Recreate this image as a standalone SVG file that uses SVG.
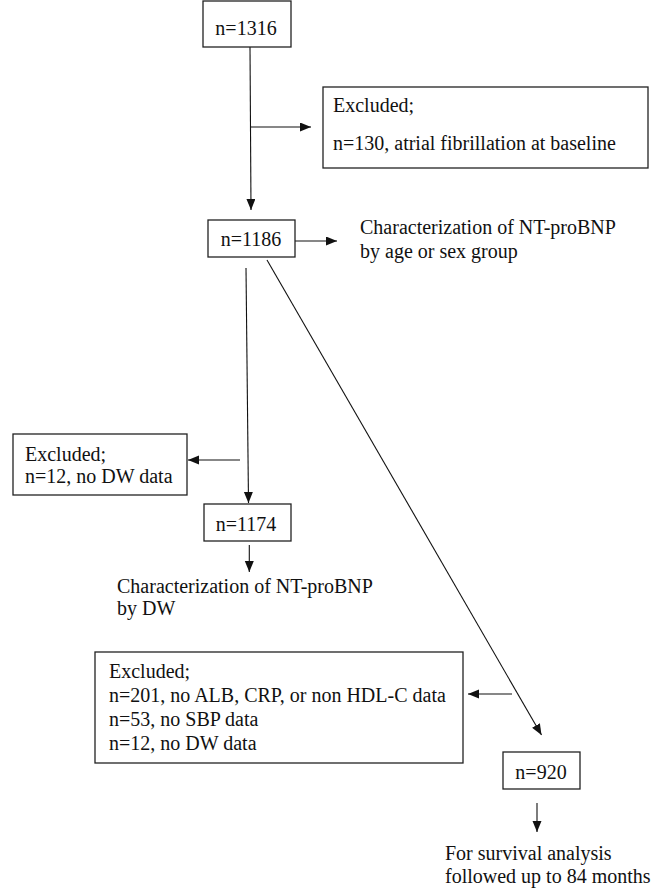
<svg xmlns="http://www.w3.org/2000/svg" width="654" height="888" viewBox="0 0 654 888">
<defs>
<style>
.box{fill:#fff;stroke:#222;stroke-width:1.3}
.t{font-family:"Liberation Serif","Times New Roman",serif;font-size:20px;fill:#111}
.c{text-anchor:middle}
.ln{stroke:#111;stroke-width:1.1;fill:none;marker-end:url(#ah)}
</style>
<marker id="ah" markerUnits="userSpaceOnUse" markerWidth="12" markerHeight="10" refX="11" refY="4.5" orient="auto">
<path d="M0,0 L11,4.5 L0,9 z" fill="#111"/>
</marker>
</defs>
<rect width="654" height="888" fill="#fff"/>
<g id="connectors">
<line class="ln" x1="250" y1="47" x2="251" y2="210"/>
<line class="ln" x1="251" y1="127" x2="311" y2="127"/>
<line class="ln" x1="295" y1="241" x2="337" y2="241"/>
<line class="ln" x1="246" y1="268" x2="248.5" y2="503"/>
<line class="ln" x1="240" y1="460" x2="188" y2="460"/>
<line class="ln" x1="267" y1="260" x2="541.5" y2="735"/>
<line class="ln" x1="249.3" y1="545" x2="249.3" y2="572"/>
<line class="ln" x1="512" y1="694" x2="468" y2="694"/>
<line class="ln" x1="537" y1="803" x2="537" y2="832"/>
</g>
<g id="n1316">
<rect class="box" x="203" y="1" width="88" height="46"/>
<text class="t c" x="246" y="35">n=1316</text>
</g>
<g id="excluded1">
<rect class="box" x="323" y="87" width="325" height="81"/>
<text class="t" x="333" y="112">Excluded;</text>
<text class="t" x="333" y="150">n=130, atrial fibrillation at baseline</text>
</g>
<g id="n1186">
<rect class="box" x="208" y="220" width="87" height="37"/>
<text class="t c" x="251" y="246">n=1186</text>
</g>
<g id="char1">
<text class="t" x="360" y="234">Characterization of NT-proBNP</text>
<text class="t" x="360" y="258">by age or sex group</text>
</g>
<g id="excluded2">
<rect class="box" x="13" y="434" width="174" height="61"/>
<text class="t" x="25" y="461">Excluded;</text>
<text class="t" x="25" y="483">n=12, no DW data</text>
</g>
<g id="n1174">
<rect class="box" x="204" y="504" width="87" height="37"/>
<text class="t c" x="246" y="531">n=1174</text>
</g>
<g id="char2">
<text class="t" x="117" y="593">Characterization of NT-proBNP</text>
<text class="t" x="117" y="615">by DW</text>
</g>
<g id="excluded3">
<rect class="box" x="95" y="652" width="368" height="111"/>
<text class="t" x="109" y="678">Excluded;</text>
<text class="t" x="109" y="702">n=201, no ALB, CRP, or non HDL-C data</text>
<text class="t" x="109" y="726">n=53, no SBP data</text>
<text class="t" x="109" y="750">n=12, no DW data</text>
</g>
<g id="n920">
<rect class="box" x="503" y="752" width="77" height="37"/>
<text class="t c" x="541" y="779">n=920</text>
</g>
<g id="survival">
<text class="t" x="445" y="860">For survival analysis</text>
<text class="t" x="445" y="883">followed up to 84 months</text>
</g>
</svg>
